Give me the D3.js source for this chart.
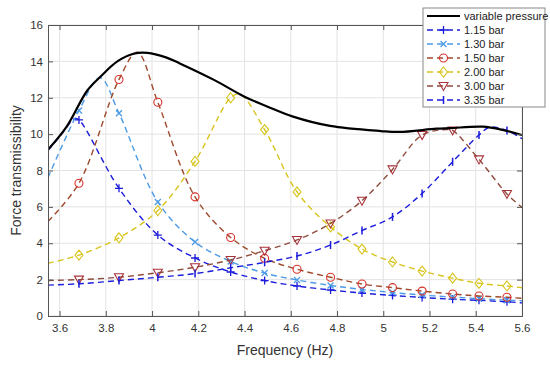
<!DOCTYPE html>
<html>
<head>
<meta charset="utf-8">
<script src="https://cdn.jsdelivr.net/npm/d3@7"></script>
<style>
  body { margin: 0; background: #fff; }
  text { font-family: "Liberation Sans", Arial, sans-serif; }
</style>
</head>
<body>
<div id="chart"></div>
<script>
// frequencies (Hz) where the markers sit, shared by every fixed-pressure curve
const markerFreq = [3.684, 3.857, 4.025, 4.186, 4.340, 4.487, 4.627, 4.772, 4.908, 5.040, 5.168, 5.300, 5.414, 5.535];

// variable pressure envelope
const varFreq = [3.55, 3.63, 3.72, 3.78, 3.85, 3.92, 3.98, 4.06, 4.12, 4.27, 4.40, 4.50, 4.61, 4.77, 4.99, 5.07, 5.23, 5.29, 5.43, 5.52, 5.60];
const varVals = [9.15, 10.4, 12.4, 13.2, 14.0, 14.42, 14.47, 14.22, 13.89, 12.97, 12.06, 11.51, 10.96, 10.45, 10.17, 10.12, 10.3, 10.33, 10.41, 10.22, 9.95];

// values at the marker frequencies
const bar115 = [10.78, 7.02, 4.45, 3.19, 2.42, 1.95, 1.65, 1.43, 1.26, 1.13, 1.02, 0.92, 0.86, 0.78];
const bar130 = [11.3, 11.15, 6.27, 4.07, 3.0, 2.36, 1.98, 1.68, 1.46, 1.29, 1.15, 1.04, 0.95, 0.87];
const bar150 = [7.3, 13.0, 11.75, 6.55, 4.32, 3.17, 2.57, 2.13, 1.76, 1.56, 1.37, 1.21, 1.10, 1.03];
const bar200 = [3.35, 4.3, 5.8, 8.5, 12.0, 10.25, 6.82, 4.9, 3.68, 2.97, 2.47, 2.08, 1.8, 1.65];
const bar300 = [2.0, 2.13, 2.38, 2.68, 3.08, 3.59, 4.18, 5.09, 6.34, 8.06, 9.95, 10.2, 8.61, 6.71];
const bar335 = [1.77, 1.95, 2.13, 2.33, 2.65, 2.95, 3.3, 3.9, 4.7, 5.45, 6.74, 8.48, 9.95, 10.2];

// curve points between markers: ends of the range and peaks [freq, value]
const bar115Extra = [[3.55, 9.1], [3.60, 9.85], [3.665, 10.85], [5.6, 0.72]];
const bar130Extra = [[3.55, 7.6], [3.775, 13.1], [5.6, 0.84]];
const bar150Extra = [[3.55, 5.2], [3.936, 14.5], [5.6, 0.97]];
const bar200Extra = [[3.55, 2.9], [4.38, 12.2], [5.6, 1.55]];
const bar300Extra = [[3.55, 1.95], [5.275, 10.25], [5.6, 5.97]];
const bar335Extra = [[3.55, 1.7], [5.46, 10.38], [5.6, 9.75]];

const seriesNames = ["1.15 bar", "1.30 bar", "1.50 bar", "2.00 bar", "3.00 bar", "3.35 bar"];

const xTicks = [3.6, 3.8, 4.0, 4.2, 4.4, 4.6, 4.8, 5.0, 5.2, 5.4, 5.6];
const xTickLabels = ["3.6", "3.8", "4", "4.2", "4.4", "4.6", "4.8", "5", "5.2", "5.4", "5.6"];
const yTicks = [0, 2, 4, 6, 8, 10, 12, 14, 16];

const w = 550, h = 365;
const mLeft = 48, mRight = 522, mTop = 25, mBottom = 316;

const series = [
  { name: seriesNames[0], vals: bar115, extra: bar115Extra, line: "#1c1cdc", mark: "#1c1cdc", shape: "plus" },
  { name: seriesNames[1], vals: bar130, extra: bar130Extra, line: "#4d9be6", mark: "#4d9be6", shape: "cross" },
  { name: seriesNames[2], vals: bar150, extra: bar150Extra, line: "#9e4a2c", mark: "#d8302a", shape: "circle" },
  { name: seriesNames[3], vals: bar200, extra: bar200Extra, line: "#d8c41c", mark: "#d8c41c", shape: "diamond" },
  { name: seriesNames[4], vals: bar300, extra: bar300Extra, line: "#8e4c3c", mark: "#a8323a", shape: "tri" },
  { name: seriesNames[5], vals: bar335, extra: bar335Extra, line: "#1c1cdc", mark: "#1c1cdc", shape: "vbar" }
];

const x = d3.scaleLinear().domain([3.55, 5.6]).range([mLeft, mRight]);
const y = d3.scaleLinear().domain([0, 16]).range([mBottom, mTop]);

const svg = d3.select("#chart").append("svg")
  .attr("width", w).attr("height", h);

// grid
svg.append("g").selectAll("line").data(xTicks).enter().append("line")
  .attr("x1", d => x(d)).attr("x2", d => x(d))
  .attr("y1", mTop).attr("y2", mBottom)
  .attr("stroke", "#e3e3e3").attr("stroke-width", 1);
svg.append("g").selectAll("line").data(yTicks).enter().append("line")
  .attr("x1", mLeft).attr("x2", mRight)
  .attr("y1", d => y(d)).attr("y2", d => y(d))
  .attr("stroke", "#e3e3e3").attr("stroke-width", 1);

svg.append("clipPath").attr("id", "clip").append("rect")
  .attr("x", mLeft).attr("y", mTop).attr("width", mRight - mLeft).attr("height", mBottom - mTop);

const line = d3.line()
  .x(d => x(d[0])).y(d => y(d[1]))
  .curve(d3.curveCatmullRom.alpha(0.5));

const plot = svg.append("g").attr("clip-path", "url(#clip)");

function drawMarker(g, shape, color, cx, cy) {
  const s = 4;
  if (shape === "plus") {
    g.append("path").attr("d", `M${cx - s},${cy}H${cx + s}M${cx},${cy - s}V${cy + s}`)
      .attr("stroke", color).attr("stroke-width", 1.3).attr("fill", "none");
  } else if (shape === "cross") {
    g.append("path").attr("d", `M${cx - 3},${cy - 3}L${cx + 3},${cy + 3}M${cx - 3},${cy + 3}L${cx + 3},${cy - 3}`)
      .attr("stroke", color).attr("stroke-width", 1.3).attr("fill", "none");
  } else if (shape === "circle") {
    g.append("circle").attr("cx", cx).attr("cy", cy).attr("r", 4)
      .attr("stroke", color).attr("stroke-width", 1.1).attr("fill", "none");
  } else if (shape === "diamond") {
    g.append("path").attr("d", `M${cx},${cy - 5}L${cx + 4},${cy}L${cx},${cy + 5}L${cx - 4},${cy}Z`)
      .attr("stroke", color).attr("stroke-width", 1.1).attr("fill", "none");
  } else if (shape === "tri") {
    g.append("path").attr("d", `M${cx - 4.5},${cy - 3.5}L${cx + 4.5},${cy - 3.5}L${cx},${cy + 4.5}Z`)
      .attr("stroke", color).attr("stroke-width", 1.1).attr("fill", "none");
  } else if (shape === "vbar") {
    g.append("path").attr("d", `M${cx},${cy - 4}V${cy + 4}`)
      .attr("stroke", color).attr("stroke-width", 1.5).attr("fill", "none");
  }
}

series.forEach(function(s) {
  const pts = markerFreq.map((f, i) => [f, s.vals[i]]).concat(s.extra)
    .sort((a, b) => a[0] - b[0]);
  plot.append("path").datum(pts)
    .attr("d", line)
    .attr("fill", "none")
    .attr("stroke", s.line)
    .attr("stroke-width", 1.4)
    .attr("stroke-dasharray", "6,4");
  const mg = plot.append("g");
  markerFreq.forEach(function(f, i) {
    drawMarker(mg, s.shape, s.mark, x(f), y(s.vals[i]));
  });
});

// variable pressure
plot.append("path").datum(varFreq.map((f, i) => [f, varVals[i]]))
  .attr("d", line)
  .attr("fill", "none")
  .attr("stroke", "#000")
  .attr("stroke-width", 2.2);

// axes
const axisColor = "#555";
const xAxis = d3.axisBottom(x).tickValues(xTicks)
  .tickFormat((d, i) => xTickLabels[i]).tickSize(-5).tickPadding(8);
const gx = svg.append("g").attr("transform", `translate(0,${mBottom})`).call(xAxis);
const yAxis = d3.axisLeft(y).tickValues(yTicks).tickSize(-5).tickPadding(5);
const gy = svg.append("g").attr("transform", `translate(${mLeft},0)`).call(yAxis);
const gt = svg.append("g").attr("transform", `translate(0,${mTop})`)
  .call(d3.axisTop(x).tickValues(xTicks).tickSize(-5).tickFormat(""));
const gr = svg.append("g").attr("transform", `translate(${mRight},0)`)
  .call(d3.axisRight(y).tickValues(yTicks).tickSize(-5).tickFormat(""));
[gx, gy, gt, gr].forEach(function(g) {
  g.select(".domain").attr("stroke", axisColor);
  g.selectAll(".tick line").attr("stroke", axisColor);
  g.selectAll(".tick text").attr("fill", "#333").style("font-size", "11.5px");
});

svg.append("text")
  .attr("x", (mLeft + mRight) / 2).attr("y", 355)
  .attr("text-anchor", "middle")
  .attr("fill", "#333")
  .style("font-size", "14px")
  .text("Frequency (Hz)");
svg.append("text")
  .attr("transform", `translate(21,${(mTop + mBottom) / 2}) rotate(-90)`)
  .attr("text-anchor", "middle")
  .attr("fill", "#333")
  .style("font-size", "14px")
  .text("Force transmissibility");

// legend
const lg = svg.append("g");
lg.append("rect").attr("x", 423).attr("y", 8).attr("width", 122).attr("height", 99)
  .attr("fill", "#fff").attr("stroke", "#888").attr("stroke-width", 1);
const rowY = i => 16 + i * 14;
lg.append("line").attr("x1", 427).attr("x2", 460).attr("y1", rowY(0)).attr("y2", rowY(0))
  .attr("stroke", "#000").attr("stroke-width", 2.2);
lg.append("text").attr("x", 464).attr("y", rowY(0) + 4).style("font-size", "11px")
  .attr("fill", "#222").text("variable pressure");
series.forEach(function(s, i) {
  const yy = rowY(i + 1);
  lg.append("line").attr("x1", 427).attr("x2", 460).attr("y1", yy).attr("y2", yy)
    .attr("stroke", s.line).attr("stroke-width", 1.4).attr("stroke-dasharray", "6,4");
  drawMarker(lg, s.shape, s.mark, 443.5, yy);
  lg.append("text").attr("x", 464).attr("y", yy + 4).style("font-size", "11px")
    .attr("fill", "#222").text(s.name);
});
</script>
</body>
</html>
